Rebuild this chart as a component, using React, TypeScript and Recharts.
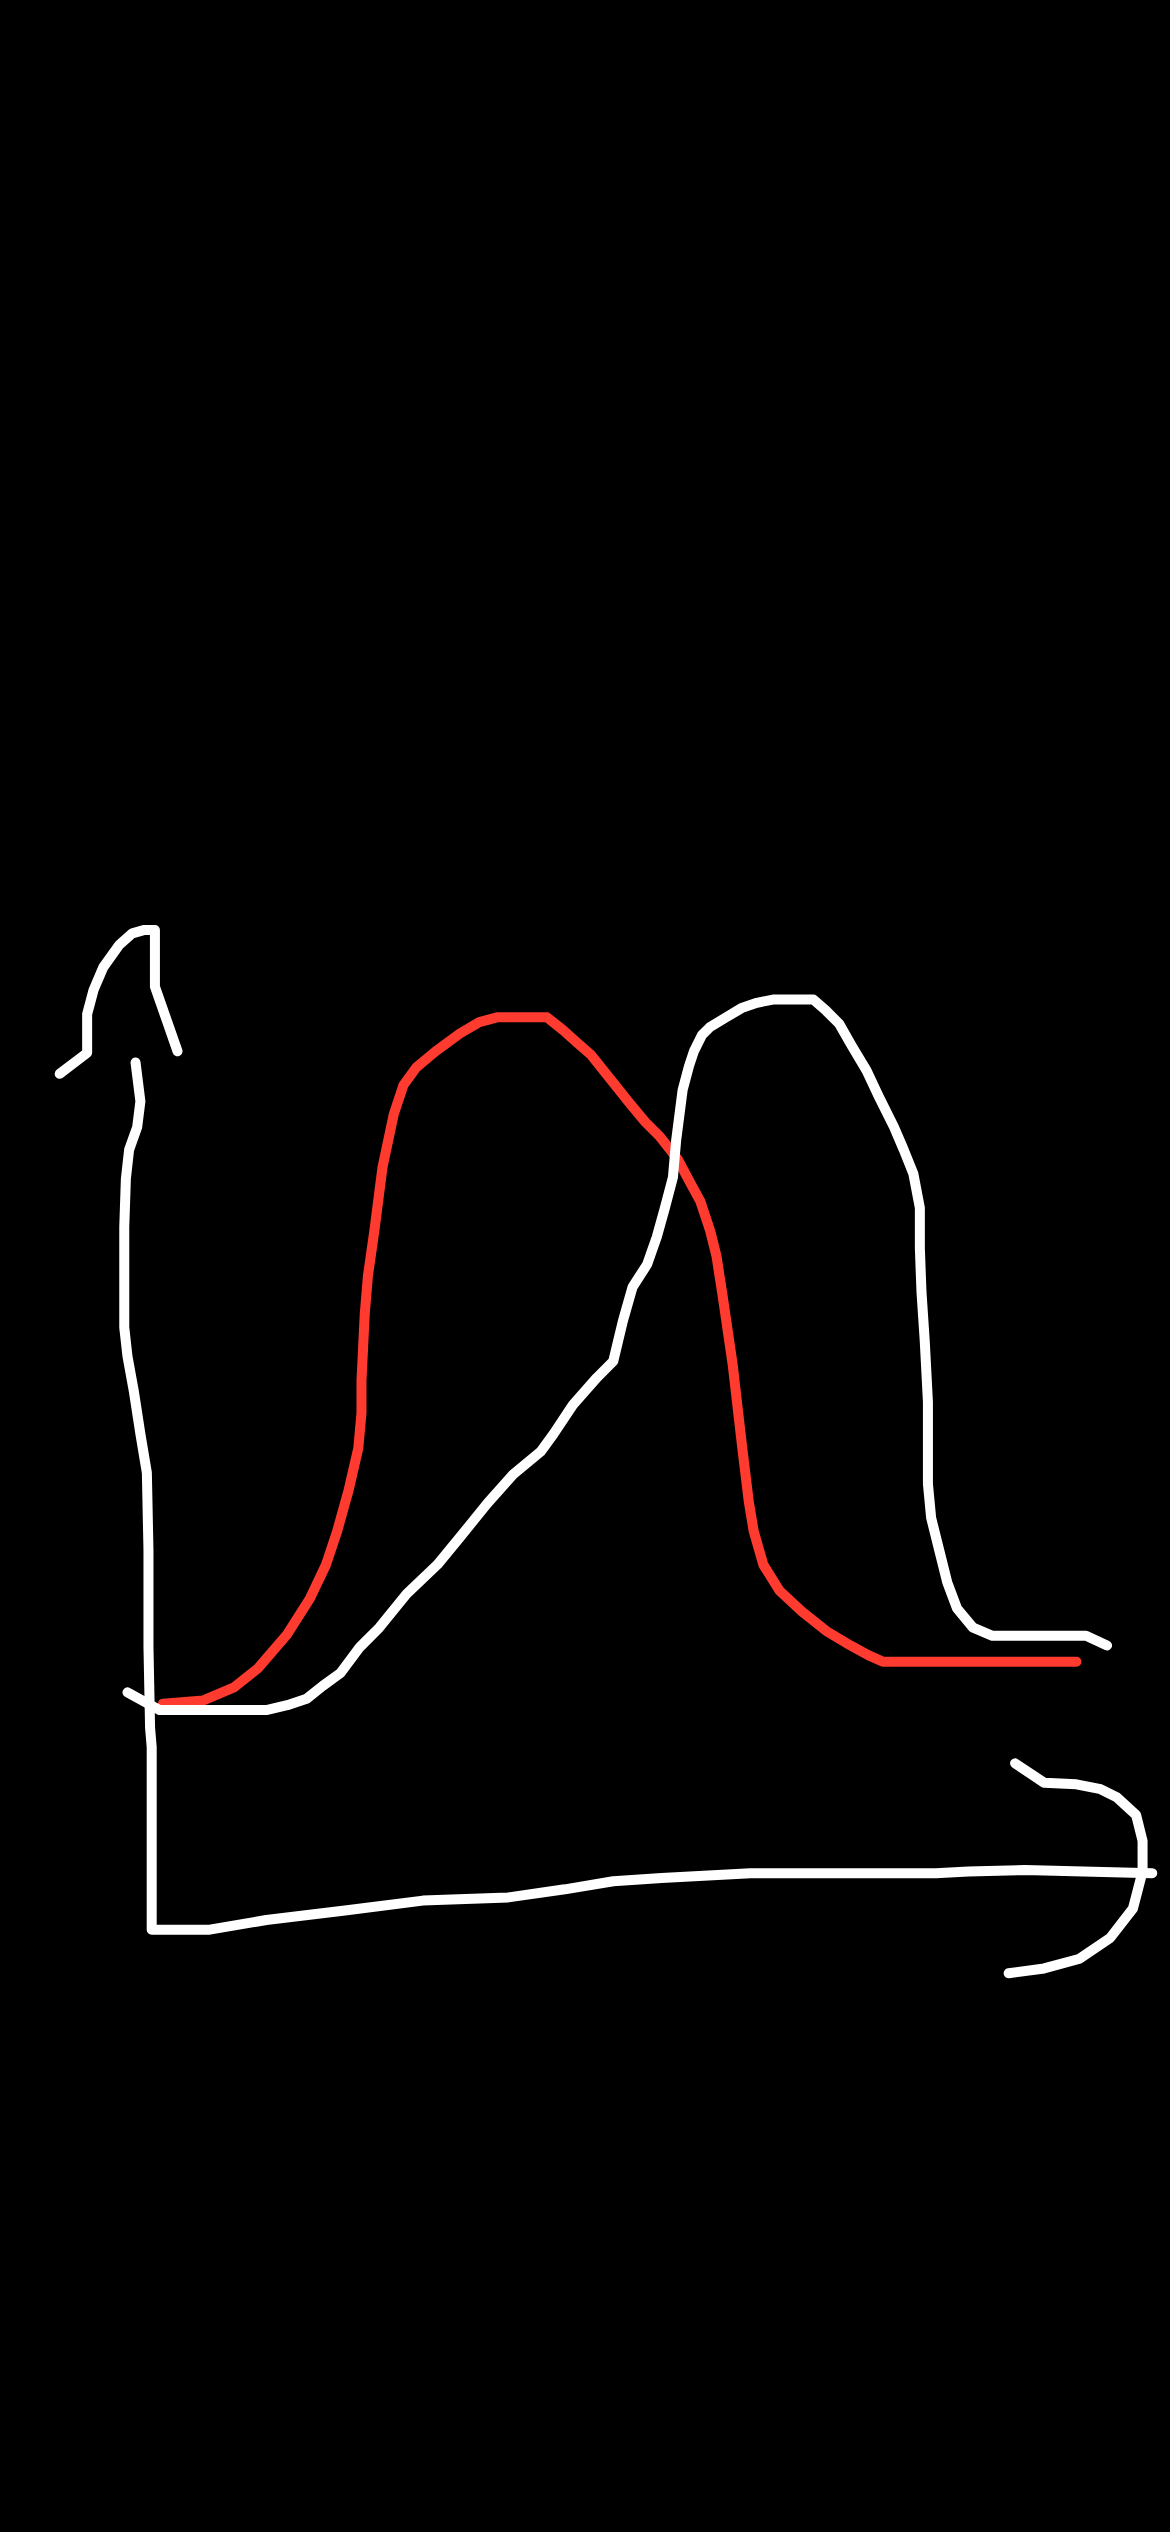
import { LineChart, Line, XAxis, YAxis } from "recharts";

// Hand-drawn sketch; coordinates (x right, y down, 725 x 1568 frame)
type Pt = [number, number];

const redCurve: Pt[] = [
  [101, 1055], [126, 1053], [145, 1045], [160, 1033], [178, 1012], [192, 990],
  [202, 969], [209, 948], [216, 923], [222, 897], [224, 875], [224, 855],
  [226, 814], [228, 790], [232, 762], [237, 723], [244, 690], [250, 672],
  [258, 661], [270, 651], [285, 640], [297, 633], [308, 630], [339, 630],
  [349, 638], [358, 646], [366, 653], [378, 668], [390, 683], [400, 695],
  [409, 704], [420, 718], [428, 733], [434, 744], [440, 762], [444, 778],
  [448, 804], [454, 845], [460, 897], [464, 930], [467, 948], [473, 969],
  [483, 985], [497, 998], [512, 1010], [527, 1019], [538, 1025], [547, 1029],
  [575, 1029], [667, 1029],
];

const whiteCurve: Pt[] = [
  [79, 1048], [99, 1059], [130, 1059], [165, 1059], [178, 1056], [190, 1052],
  [200, 1044], [211, 1036], [223, 1020], [235, 1008], [252, 987], [271, 969],
  [285, 952], [302, 931], [318, 913], [335, 899], [343, 888], [355, 870],
  [370, 853], [380, 843], [386, 818], [392, 797], [401, 783], [407, 766],
  [412, 748], [417, 729], [419, 706], [423, 675], [427, 660], [430, 651],
  [435, 641], [440, 636], [450, 630], [460, 624], [469, 621], [479, 619],
  [504, 619], [512, 626], [520, 634], [528, 648], [537, 663], [545, 680],
  [554, 698], [560, 712], [566, 727], [570, 748], [570, 773], [571, 800],
  [573, 830], [575, 868], [575, 919], [577, 940], [582, 960], [587, 980],
  [593, 996], [603, 1008], [615, 1013], [673, 1013], [686, 1019],
];

const axisStroke: Pt[] = [
  [84, 658], [87, 682], [85, 698], [80, 712], [78, 730], [77, 760], [77, 822],
  [79, 840], [83, 862], [87, 888], [91, 912], [92, 960], [92, 1020], [93, 1070],
  [94, 1082], [94, 1195], [130, 1195], [165, 1189], [215, 1183], [262, 1177],
  [315, 1175], [350, 1170], [380, 1165], [410, 1163], [465, 1160], [580, 1160],
  [600, 1159], [635, 1158], [714, 1160],
];

const yArrow: Pt[] = [
  [37, 665], [54, 652], [54, 628], [58, 613], [64, 599], [74, 585], [82, 578],
  [89, 576], [96, 576], [96, 611], [103, 631], [110, 651],
];

const xArrow: Pt[] = [
  [629, 1092], [647, 1104], [667, 1105], [682, 1108], [692, 1113], [704, 1124],
  [708, 1140], [708, 1159], [702, 1182], [688, 1200], [669, 1213], [647, 1219],
  [625, 1222],
];

const toRows = (pts: Pt[]) => pts.map(([x, y]) => ({ x, y }));

const strokes = [
  { key: "axis", pts: axisStroke, color: "#ffffff" },
  { key: "yArrow", pts: yArrow, color: "#ffffff" },
  { key: "xArrow", pts: xArrow, color: "#ffffff" },
  { key: "red", pts: redCurve, color: "#ff3b30" },
  { key: "white", pts: whiteCurve, color: "#ffffff" },
];

export default function App() {
  return (
    <div
      style={{
        position: "absolute",
        top: 0,
        left: 0,
        width: 1170,
        height: 2532,
        background: "#000",
        overflow: "hidden",
      }}
    >
      <LineChart width={1170} height={2532} margin={{ top: 0, right: 0, bottom: 0, left: 0 }}>
        <XAxis type="number" dataKey="x" domain={[0, 725]} hide allowDataOverflow />
        <YAxis type="number" dataKey="y" domain={[0, 1568]} reversed hide allowDataOverflow />
        {strokes.map((s) => (
          <Line
            key={s.key}
            data={toRows(s.pts)}
            dataKey="y"
            type="linear"
            stroke={s.color}
            strokeWidth={10}
            strokeLinecap="round"
            strokeLinejoin="round"
            dot={false}
            activeDot={false}
            isAnimationActive={false}
          />
        ))}
      </LineChart>
    </div>
  );
}
